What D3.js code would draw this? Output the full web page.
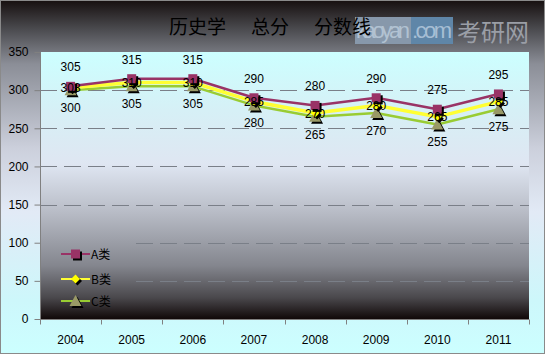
<!DOCTYPE html>
<html>
<head>
<meta charset="utf-8">
<script src="https://cdn.jsdelivr.net/npm/d3@7"></script>
<style>
body { margin: 0; padding: 0; background: #fff; }
text { font-family: "Liberation Sans", Arial, sans-serif; }
</style>
</head>
<body>
<script>
var years = ["2004", "2005", "2006", "2007", "2008", "2009", "2010", "2011"];
var seriesA = [305, 315, 315, 290, 280, 290, 275, 295];
var seriesB = [303, 310, 310, 285, 270, 280, 265, 285];
var seriesC = [300, 305, 305, 280, 265, 270, 255, 275];
var yTicks = [0, 50, 100, 150, 200, 250, 300, 350];
var seriesNames = ["A类", "B类", "C类"];
var titleParts = ["历史学", "总分", "分数线"];

var width = 545, height = 355;
var plot = { left: 40, top: 52, right: 529, bottom: 319 };

var svg = d3.select("body").append("svg")
    .attr("width", width)
    .attr("height", height);

var defs = svg.append("defs");

// outer background: dark at top, light cyan at bottom
var outerGrad = defs.append("linearGradient")
    .attr("id", "outerGrad")
    .attr("x1", 0).attr("y1", 0).attr("x2", 0).attr("y2", 1);
[[0, "#171010"], [0.08, "#4a4a4e"], [0.18, "#8b8e97"], [0.42, "#ccd0dc"], [0.6, "#e2eaf6"], [0.85, "#cdf7fb"], [1, "#ccffff"]]
    .forEach(function(s) { outerGrad.append("stop").attr("offset", s[0]).attr("stop-color", s[1]); });

// plot background: light cyan at top, black at bottom
var plotGrad = defs.append("linearGradient")
    .attr("id", "plotGrad")
    .attr("gradientUnits", "userSpaceOnUse")
    .attr("x1", 0).attr("y1", plot.top).attr("x2", 0).attr("y2", plot.bottom);
[[0, "#ccffff"], [0.22, "#d6f0f6"], [0.42, "#dfe6f2"], [0.6, "#b8bcc6"], [0.8, "#84868e"], [0.92, "#4a484c"], [1, "#100808"]]
    .forEach(function(s) { plotGrad.append("stop").attr("offset", s[0]).attr("stop-color", s[1]); });

svg.append("rect")
    .attr("x", 0.5).attr("y", 0.5)
    .attr("width", width - 1).attr("height", height - 2)
    .attr("fill", "url(#outerGrad)")
    .attr("stroke", "#8a8a8a");

svg.append("rect")
    .attr("x", plot.left).attr("y", plot.top)
    .attr("width", plot.right - plot.left).attr("height", plot.bottom - plot.top)
    .attr("fill", "url(#plotGrad)");

var x = d3.scaleBand().domain(years).range([plot.left, plot.right]);
var y = d3.scaleLinear().domain([0, 350]).range([plot.bottom, plot.top]);

// gridlines
svg.append("g")
    .selectAll("line")
    .data(yTicks.filter(function(d) { return d > 0 && d < 350; }))
    .enter()
  .append("line")
    .attr("x1", plot.left).attr("x2", plot.right)
    .attr("y1", function(d) { return Math.round(y(d)) + 0.5; })
    .attr("y2", function(d) { return Math.round(y(d)) + 0.5; })
    .attr("stroke", "#7a7f88")
    .attr("stroke-width", 1)
    .attr("stroke-dasharray", "17,7");

// y axis
var yAxis = svg.append("g")
    .attr("transform", "translate(" + (plot.left + 0.5) + ",0)")
    .call(d3.axisLeft(y).tickValues(yTicks).tickSize(6).tickPadding(6));
yAxis.select(".domain").attr("stroke", "#808080").attr("d", "M0," + plot.top + "V" + (plot.bottom + 5));
yAxis.selectAll(".tick line").attr("stroke", "#808080");
yAxis.selectAll(".tick text").attr("fill", "#000").style("font-size", "12px");

// x axis
var xAxis = svg.append("g")
    .attr("transform", "translate(0," + (plot.bottom + 0.5) + ")");
xAxis.append("line")
    .attr("x1", plot.left).attr("x2", plot.right)
    .attr("stroke", "#808080");
xAxis.selectAll(".xtick")
    .data(years.concat(["end"]))
    .enter()
  .append("line")
    .attr("x1", function(d, i) { return Math.round(plot.left + i * x.bandwidth()) + 0.5; })
    .attr("x2", function(d, i) { return Math.round(plot.left + i * x.bandwidth()) + 0.5; })
    .attr("y1", 0).attr("y2", 5)
    .attr("stroke", "#808080");
xAxis.selectAll(".xlabel")
    .data(years)
    .enter()
  .append("text")
    .attr("x", function(d) { return x(d) + x.bandwidth() / 2; })
    .attr("y", 24)
    .attr("text-anchor", "middle")
    .style("font-size", "12px")
    .text(function(d) { return d; });

// legend box (same fill, hides gridlines)
svg.append("rect")
    .attr("x", plot.left + 1).attr("y", 236)
    .attr("width", 94).attr("height", 80)
    .attr("fill", "url(#plotGrad)");

var series = [
    { name: seriesNames[0], values: seriesA, color: "#993366", width: 2.5, marker: "square", fill: "#993366" },
    { name: seriesNames[1], values: seriesB, color: "#ffff33", width: 3.5, marker: "diamond", fill: "#ffff00" },
    { name: seriesNames[2], values: seriesC, color: "#99cc33", width: 2.5, marker: "triangle", fill: "#999966" }
];

var line = d3.line()
    .x(function(d, i) { return x(years[i]) + x.bandwidth() / 2; })
    .y(function(d) { return y(d); });

function markerPath(type) {
    if (type === "square") return "M-4.5,-4.5H4.5V4.5H-4.5Z";
    if (type === "diamond") return "M0,-4.5L4.5,0L0,4.5L-4.5,0Z";
    return "M0,-6L6,5H-6Z";
}

function drawMarker(g, s, cx, cy) {
    g.append("path")
        .attr("d", markerPath(s.marker))
        .attr("transform", "translate(" + (cx + 2) + "," + (cy + 2) + ")")
        .attr("fill", "#000");
    g.append("path")
        .attr("d", markerPath(s.marker))
        .attr("transform", "translate(" + cx + "," + cy + ")")
        .attr("fill", s.fill);
}

// lines drawn C, B, A so A is on top
[2, 1, 0].forEach(function(k) {
    var s = series[k];
    svg.append("path")
        .datum(s.values)
        .attr("d", line)
        .attr("fill", "none")
        .attr("stroke", s.color)
        .attr("stroke-width", s.width)
        .attr("stroke-linejoin", "round");
});

var markers = svg.append("g");
[2, 1, 0].forEach(function(k) {
    var s = series[k];
    s.values.forEach(function(v, i) {
        drawMarker(markers, s, x(years[i]) + x.bandwidth() / 2, y(v));
    });
});

// data labels
var labels = svg.append("g").style("font-size", "12px").attr("text-anchor", "middle");
series.forEach(function(s, k) {
    var dy = k === 0 ? -15 : (k === 1 ? 4.5 : 22);
    labels.selectAll(".lbl" + k)
        .data(s.values)
        .enter()
      .append("text")
        .attr("x", function(d, i) { return x(years[i]) + x.bandwidth() / 2; })
        .attr("y", function(d) { return y(d) + dy; })
        .attr("fill", "#000")
        .text(function(d) { return d; });
});

// legend entries
var legend = svg.append("g");
series.forEach(function(s, k) {
    var ly = [254, 279, 301][k];
    legend.append("line")
        .attr("x1", 61).attr("x2", 90)
        .attr("y1", ly).attr("y2", ly)
        .attr("stroke", s.color)
        .attr("stroke-width", 2);
    drawMarker(legend, s, 75.5, ly);
    legend.append("text")
        .attr("x", 91).attr("y", ly + 4.5)
        .style("font-family", "'Noto Sans CJK SC', sans-serif")
        .style("font-size", "12px")
        .text(s.name);
});

// watermark (site logo over the title area)
var wm = svg.append("g");
wm.append("rect")
    .attr("x", 355).attr("y", 17).attr("width", 56).attr("height", 27)
    .attr("fill", "#8798ab");
wm.append("rect")
    .attr("x", 411).attr("y", 17).attr("width", 42).attr("height", 27)
    .attr("fill", "#5f86a8");
wm.append("text")
    .attr("x", 356).attr("y", 38)
    .attr("textLength", 54)
    .style("font-size", "22px")
    .attr("fill", "#b2c2d2")
    .text("kaoyan");
wm.append("text")
    .attr("x", 412).attr("y", 38)
    .attr("textLength", 40)
    .style("font-size", "22px")
    .attr("fill", "#a6bed4")
    .text(".com");
wm.append("text")
    .attr("x", 457).attr("y", 41)
    .style("font-family", "'Noto Sans CJK SC', sans-serif")
    .style("font-size", "24px")
    .attr("fill", "#9a9ea6")
    .text("考研网");

// title
svg.append("g")
    .selectAll("text")
    .data(titleParts)
    .enter()
  .append("text")
    .attr("x", function(d, i) { return [169, 251, 314][i]; })
    .attr("y", 34)
    .style("font-family", "'Noto Sans CJK SC', sans-serif")
    .style("font-size", "19px")
    .attr("fill", "#000")
    .text(function(d) { return d; });
</script>
</body>
</html>
